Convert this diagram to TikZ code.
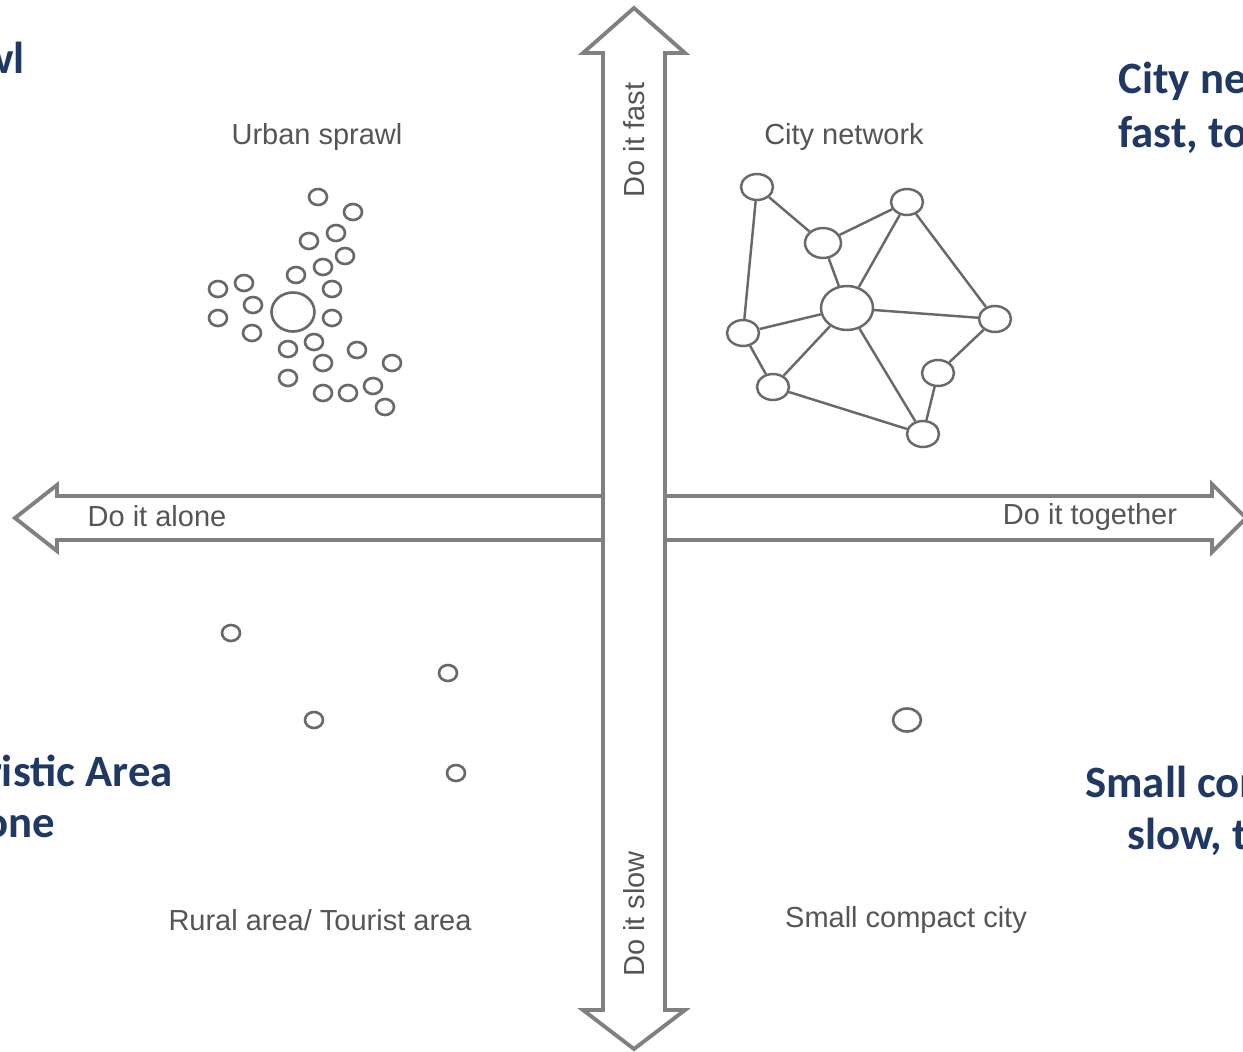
\documentclass[tikz,border=0pt]{standalone}
\usepackage{fontspec}
\setmainfont{Liberation Sans}
\newfontfamily\quadfont{Carlito}
\usetikzlibrary{shapes.geometric}

\definecolor{quadblue}{RGB}{31,56,100}
\definecolor{axisgray}{RGB}{128,128,128}
\definecolor{dotgray}{RGB}{105,105,105}
\definecolor{labelgray}{RGB}{85,85,85}

\tikzset{
  axis/.style={draw=axisgray, line width=2.2pt, fill=white, line join=miter},
  dot/.style={draw=dotgray, line width=1.5pt},
  hub/.style={ellipse, draw=dotgray, line width=1.4pt, fill=white, inner sep=0pt,
    minimum width=0.64cm, minimum height=0.52cm},
  link/.style={draw=dotgray, line width=1.4pt},
  lbl/.style={text=labelgray, font=\fontsize{16.5}{19}\selectfont},
  corner/.style={text=quadblue, inner sep=0pt, font=\quadfont\bfseries\fontsize{25.5}{30}\selectfont}
}

\begin{document}
\begin{tikzpicture}[x=0.02cm, y=-0.02cm]
    \useasboundingbox (0, 0) rectangle (1243, 1051);
    \clip (0, 0) rectangle (1243, 1051);

    % axes
    \draw[axis] (15, 518) -- (57, 485) -- (57, 496) -- (1212, 496) -- (1212, 484)
      -- (1246, 518) -- (1212, 552) -- (1212, 540) -- (57, 540) -- (57, 551) -- cycle;
    \draw[axis] (634, 8) -- (685, 53) -- (665, 53) -- (665, 1010) -- (685, 1010)
      -- (634, 1049) -- (583, 1010) -- (603, 1010) -- (603, 53) -- (583, 53) -- cycle;

    \node[lbl] (alone) at (157, 516) {Do it alone};
    \node[lbl] (together) at (1090, 517) {Do it together};
    \node[lbl, rotate=90] (fast) at (634, 140) {Do it fast};
    \node[lbl, rotate=90] (slow) at (634, 914) {Do it slow};

    % quadrant titles
    \node[lbl] (sprawl) at (317, 137) {Urban sprawl};
    \node[lbl] (network) at (844, 137) {City network};
    \node[lbl] (rural) at (320, 920) {Rural area/ Tourist area};
    \node[lbl] (compact) at (906, 920) {Small compact city};

    % urban sprawl
    \foreach \px/\py in {318/197, 353/212, 336/233, 309/241, 345/256, 323/267, 296/275,
        244/283, 218/289, 332/289, 253/305, 218/318, 332/318, 252/333, 288/349, 314/342,
        357/350, 323/363, 392/363, 288/378, 323/393, 348/393, 373/386, 385/407}
      \draw[dot] (\px, \py) ellipse [x radius=0.18cm, y radius=0.16cm];
    \draw[dot] (293, 312) ellipse [x radius=0.43cm, y radius=0.39cm];

    % city network
    \node[hub] (nw) at (757, 187) {};
    \node[hub] (ne) at (907, 202) {};
    \node[hub, minimum width=0.72cm, minimum height=0.6cm] (upper) at (823, 243) {};
    \node[hub, minimum width=1.04cm, minimum height=0.88cm] (core) at (847, 308) {};
    \node[hub] (west) at (743, 333) {};
    \node[hub] (east) at (995, 319) {};
    \node[hub] (se) at (938, 373) {};
    \node[hub] (sw) at (773, 387) {};
    \node[hub] (south) at (923, 434) {};
    \draw[link] (nw) -- (upper);
    \draw[link] (nw) -- (west);
    \draw[link] (upper) -- (ne);
    \draw[link] (upper) -- (core);
    \draw[link] (ne) -- (core);
    \draw[link] (ne) -- (east);
    \draw[link] (core) -- (west);
    \draw[link] (core) -- (sw);
    \draw[link] (core) -- (east);
    \draw[link] (core) -- (south);
    \draw[link] (west) -- (sw);
    \draw[link] (sw) -- (south);
    \draw[link] (east) -- (se);
    \draw[link] (se) -- (south);

    % rural area
    \foreach \px/\py in {231/633, 448/673, 314/720, 456/773}
      \draw[dot] (\px, \py) ellipse [x radius=0.18cm, y radius=0.16cm];

    % small compact city
    \draw[dot] (907, 720) ellipse [x radius=0.28cm, y radius=0.23cm];

    % cut-off captions
    \node[corner, anchor=base east] (capsprawl) at (25, 73) {Urban sprawl};
    \node[corner, anchor=base west] (capnet) at (1118, 93) {City network};
    \node[corner, anchor=base west] (capnet2) at (1118, 147) {fast, together};
    \node[corner, anchor=base east] (caprural) at (173, 786) {Rural/Touristic Area};
    \node[corner, anchor=base east] (caprural2) at (55, 837) {slow, alone};
    \node[corner, anchor=base west] (capcity) at (1085, 797) {Small compact city};
    \node[corner, anchor=base west] (capcity2) at (1127, 849) {slow, together};
  \end{tikzpicture}
\end{document}
